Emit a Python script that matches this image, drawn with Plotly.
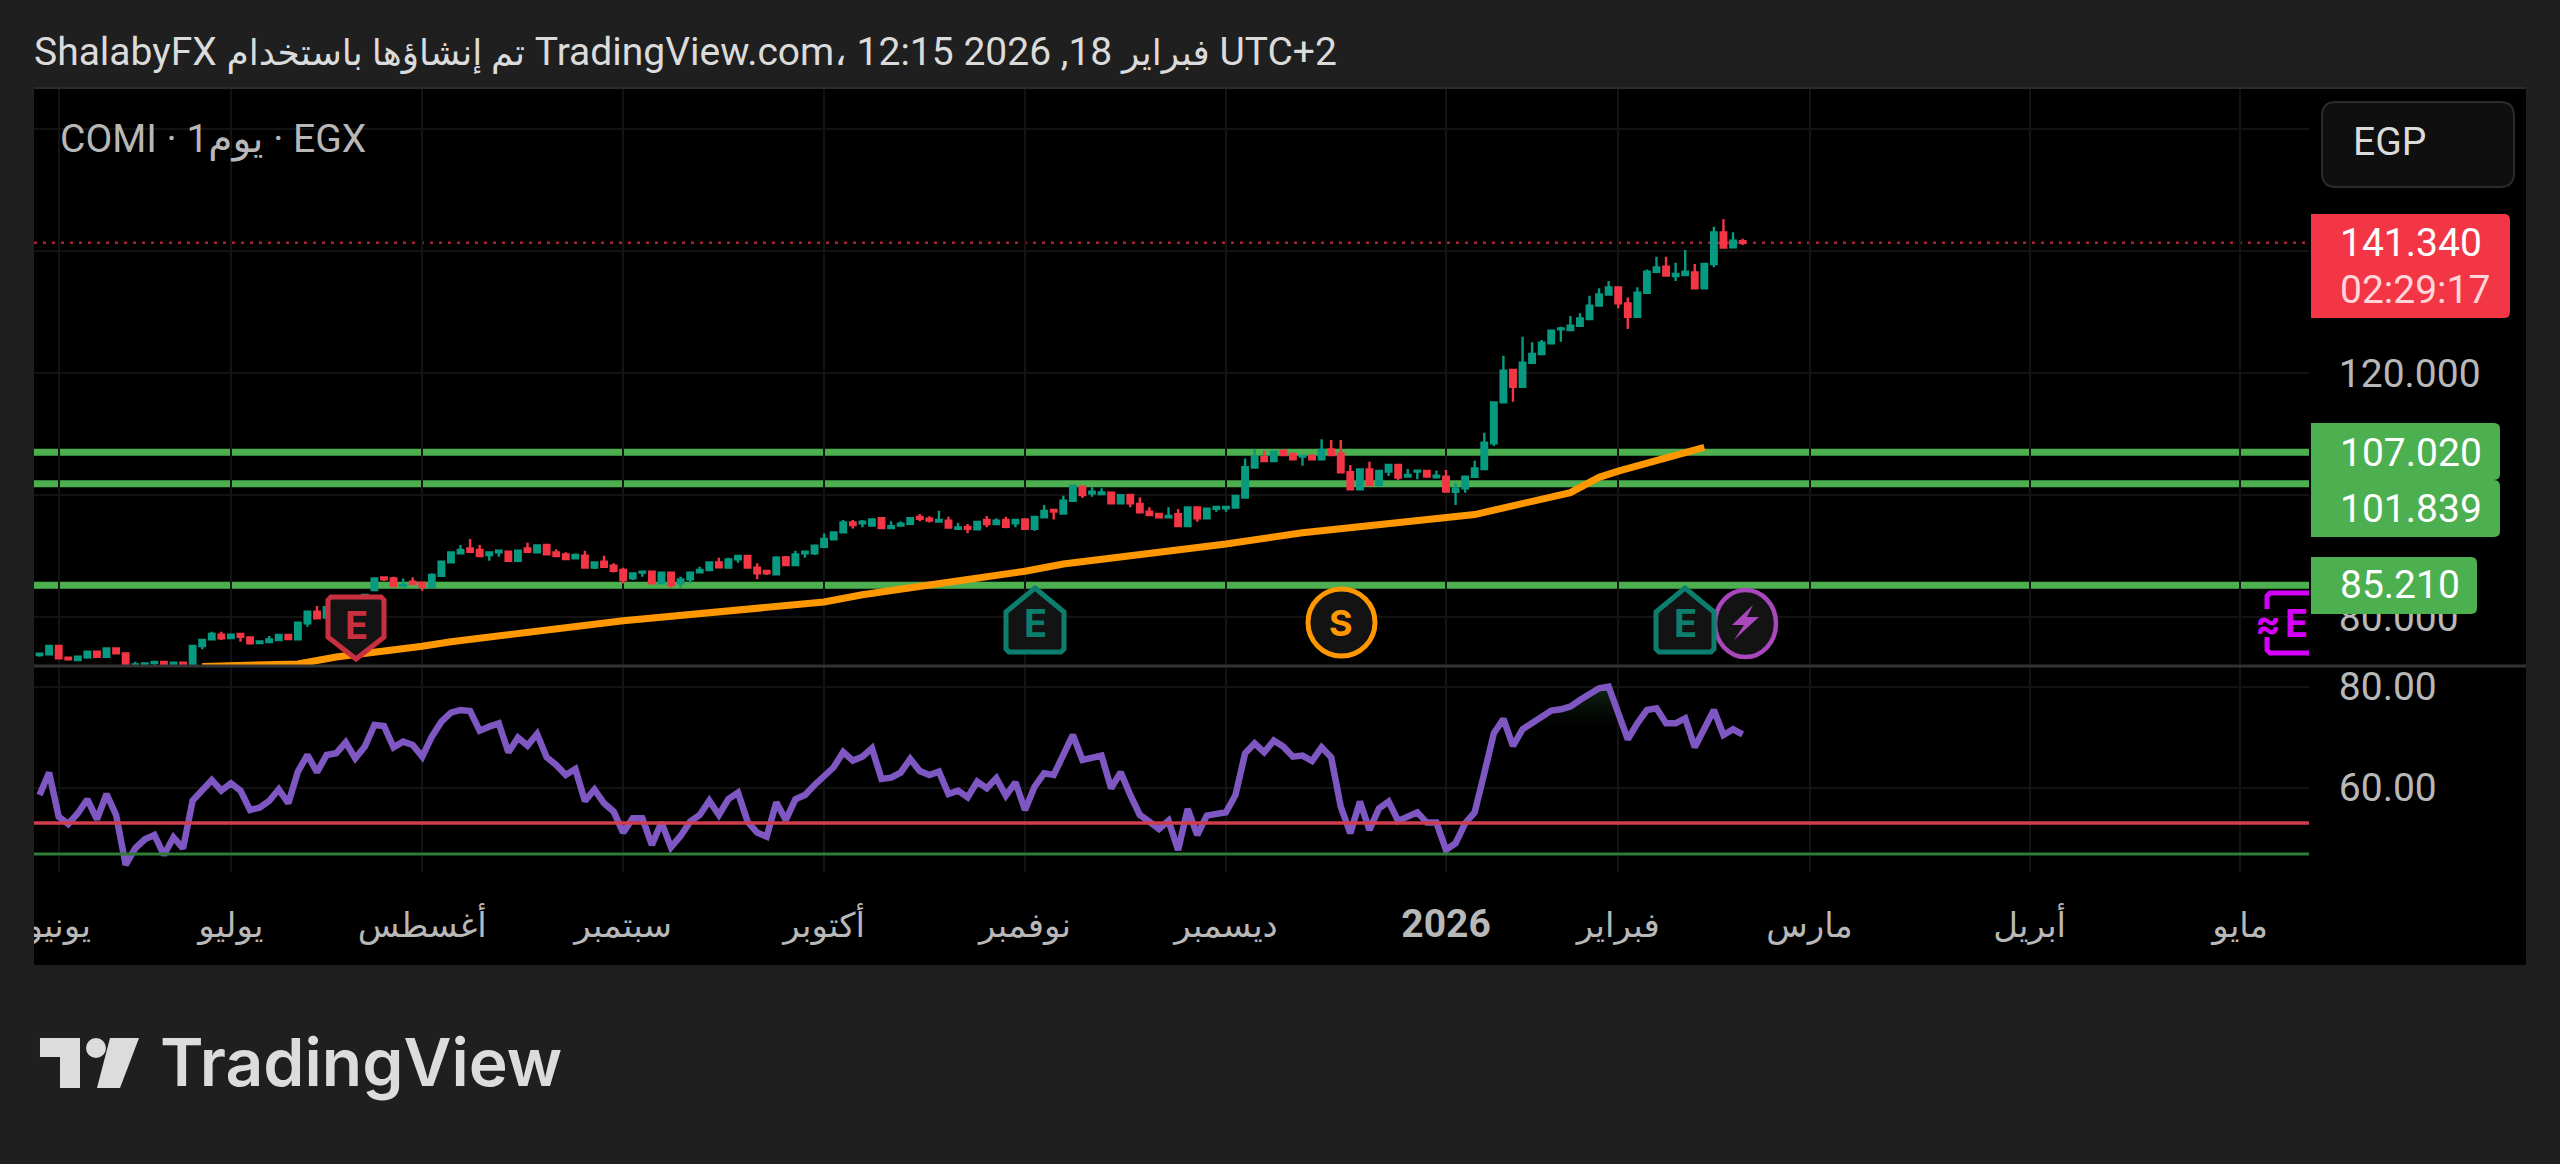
import plotly.graph_objects as go

W = 2560
H = 1164
FONT = "Roboto, 'DejaVu Sans', sans-serif"
GREEN = "#089981"
RED = "#F23645"
LEVEL_GREEN = "#4CAF50"
ORANGE = "#FF9800"
PURPLE = "#7E57C2"
MAGENTA = "#D500F9"
GRID = "#131313"
BG = "#1f1f1f"

# daily bars, 0 is the first bar of June (EGX trades Sun-Thu)
first_bar = -2
open_ = [
    73.77, 73.88, 75.24, 73.33, 72.95, 73.38, 74.31, 73.49, 74.86, 74.04,
    72.13, 72.13, 72.46, 72.62, 72.13, 72.51, 72.13, 75.24, 76.34, 77.10,
    76.55, 77.21, 76.66, 75.73, 75.90, 76.23, 77.05, 76.34, 78.96, 80.87,
    79.9, 81.6, 82.6, 82.0, 83.0, 84.42, 86.5, 86.33, 85.08, 85.8,
    85.63, 84.97, 86.77, 88.96, 90.44, 91.26, 90.98, 90.16, 90.6, 90.71,
    89.23, 91.26, 90.6, 91.8, 90.6, 90.27, 89.62, 90.05, 88.09, 89.07,
    88.41, 87.7, 86.34, 87.27, 87.43, 85.52, 87.27, 85.52, 86.17, 87.33,
    87.7, 88.96, 88.09, 89.45, 90.0, 88.09, 87.54, 87.0, 89.78, 88.52,
    90.44, 90.44, 91.53, 92.73, 93.88, 95.52, 95.35, 95.0, 96.2, 94.6,
    95.0, 95.3, 96.4, 96.1, 95.63, 95.8, 94.48, 94.76, 94.38, 95.9,
    95.25, 95.9, 95.36, 96.0, 94.48, 96.34, 97.55, 96.98, 99.07, 101.37,
    100.28, 100.17, 100.39, 98.64, 100.0, 98.53, 97.27, 96.9, 96.34, 96.84,
    94.92, 97.98, 96.18, 97.76, 97.82, 97.93, 99.57, 104.49, 106.18, 105.58,
    107.27, 106.73, 106.29, 106.4, 105.85, 107.49, 106.83, 103.72, 100.93, 104.21,
    101.64, 103.83, 104.92, 103.01, 103.83, 103.94, 102.9, 103.01, 100.54, 101.09,
    103.0, 104.26, 108.47, 115.19, 120.49, 117.76, 121.69, 123.11, 124.86, 127.16,
    127.05, 127.76, 128.85, 131.04, 132.87, 134.04, 131.42, 129.23, 133.17, 136.61,
    137.43, 135.9, 136.06, 136.5, 133.88, 137.87, 143.06, 140.6, 141.6,
]
high = [
    74.0, 75.24, 75.24, 73.4, 73.66, 74.31, 74.31, 74.86, 74.86, 74.04,
    72.67, 72.5, 72.78, 72.62, 72.6, 72.6, 75.24, 76.23, 77.59, 77.59,
    77.10, 77.3, 76.7, 76.05, 76.88, 77.05, 77.1, 79.2, 80.87, 81.80,
    81.9, 82.8, 82.9, 83.2, 83.7, 86.4, 86.6, 86.6, 86.33, 86.5,
    85.63, 87.16, 89.07, 90.8, 91.8, 92.79, 91.8, 90.7, 90.87, 90.71,
    90.87, 92.18, 91.75, 91.8, 91.09, 90.6, 90.4, 90.87, 88.96, 90.05,
    88.8, 88.09, 87.16, 87.43, 87.43, 87.27, 87.27, 86.6, 87.27, 88.25,
    88.96, 89.73, 89.73, 90.0, 90.0, 88.8, 87.7, 89.95, 90.0, 90.87,
    90.71, 91.69, 93.71, 93.88, 95.9, 95.9, 95.9, 96.2, 96.2, 95.7,
    95.7, 96.2, 96.9, 96.5, 97.44, 96.45, 95.47, 95.25, 95.58, 96.56,
    96.2, 96.45, 95.9, 96.0, 96.4, 98.36, 97.55, 99.9, 101.48, 101.37,
    101.26, 101.1, 100.39, 99.95, 100.0, 99.6, 97.98, 96.9, 97.98, 97.7,
    97.98, 97.98, 97.76, 98.04, 98.04, 99.84, 106.0, 107.49, 107.27, 107.11,
    107.4, 106.9, 106.45, 106.7, 109.13, 109.02, 109.02, 104.92, 104.21, 105.47,
    103.94, 104.92, 104.92, 104.27, 104.0, 103.94, 104.0, 104.1, 101.91, 103.0,
    105.63, 110.22, 115.19, 122.84, 120.49, 125.95, 125.03, 125.41, 127.0, 127.59,
    129.34, 129.78, 132.68, 133.88, 135.08, 134.04, 132.4, 134.04, 136.99, 139.07,
    139.07, 138.09, 140.16, 137.87, 137.87, 143.99, 145.19, 143.06, 142.0,
]
low = [
    73.49, 73.88, 73.22, 73.06, 72.95, 73.16, 73.49, 73.49, 74.04, 72.13,
    71.96, 72.0, 72.13, 72.13, 72.0, 72.13, 72.13, 74.70, 76.3, 76.23,
    76.5, 75.95, 75.68, 75.65, 75.8, 76.2, 76.39, 76.3, 78.41, 79.78,
    79.8, 81.4, 81.8, 81.9, 82.8, 84.42, 85.9, 85.08, 85.0, 85.4,
    84.3, 84.97, 86.77, 88.96, 90.44, 90.6, 90.0, 89.23, 89.9, 89.23,
    89.23, 90.71, 90.6, 90.27, 90.0, 89.5, 89.62, 88.09, 87.87, 88.25,
    87.3, 85.5, 86.06, 86.6, 85.52, 85.52, 84.8, 84.8, 85.52, 87.33,
    87.7, 88.14, 88.09, 88.9, 88.09, 86.2, 86.9, 87.0, 88.52, 88.52,
    89.73, 90.16, 91.26, 92.73, 93.88, 94.53, 94.7, 94.9, 94.6, 94.5,
    95.0, 95.3, 95.7, 95.5, 95.63, 94.65, 94.48, 93.72, 94.38, 94.7,
    95.25, 94.55, 94.7, 94.48, 94.16, 96.34, 96.0, 96.98, 99.07, 99.5,
    99.73, 100.17, 98.64, 98.64, 97.98, 97.16, 96.73, 96.34, 96.34, 94.92,
    94.92, 95.63, 96.18, 97.27, 97.27, 97.93, 99.4, 104.49, 105.58, 105.58,
    106.56, 105.85, 104.8, 105.85, 105.85, 106.56, 103.72, 100.93, 100.93, 101.64,
    101.64, 103.12, 102.46, 103.01, 102.57, 103.01, 102.9, 100.55, 98.36, 100.38,
    103.0, 104.26, 108.03, 115.19, 115.3, 117.76, 121.69, 123.11, 124.86, 125.14,
    127.05, 127.76, 128.85, 131.04, 132.87, 130.6, 127.21, 129.23, 133.17, 136.61,
    135.96, 135.08, 136.06, 133.88, 133.88, 137.32, 140.55, 140.6, 140.98,
]
close = [
    73.98, 75.24, 73.22, 73.06, 73.49, 74.31, 73.49, 74.86, 74.04, 72.13,
    72.24, 72.40, 72.62, 72.13, 72.51, 72.13, 75.24, 76.23, 77.21, 76.50,
    77.10, 76.77, 75.68, 76.01, 76.34, 77.05, 76.39, 79.07, 80.87, 79.78,
    81.6, 82.6, 82.0, 83.0, 83.6, 86.33, 86.2, 85.08, 85.24, 85.4,
    84.97, 86.88, 89.07, 90.60, 90.98, 90.7, 90.0, 90.6, 90.87, 89.23,
    90.87, 90.71, 91.75, 90.27, 90.0, 89.5, 90.16, 88.09, 88.96, 88.25,
    87.59, 86.06, 87.16, 87.43, 85.52, 87.27, 85.24, 86.17, 87.27, 87.7,
    88.96, 88.14, 89.45, 90.0, 88.09, 87.16, 87.16, 89.73, 88.52, 90.27,
    90.71, 91.69, 92.79, 93.88, 95.52, 95.08, 95.63, 96.0, 94.6, 94.9,
    95.3, 96.2, 96.1, 95.8, 95.9, 94.65, 94.7, 94.48, 95.58, 95.25,
    95.8, 94.81, 95.9, 94.48, 96.4, 97.38, 97.27, 99.07, 101.48, 100.0,
    100.55, 100.44, 98.64, 99.95, 98.64, 97.16, 96.73, 96.34, 96.56, 94.92,
    97.98, 96.18, 97.76, 98.04, 98.04, 99.84, 104.54, 106.29, 105.58, 107.11,
    106.56, 105.85, 106.45, 105.85, 107.38, 106.56, 103.72, 100.93, 104.21, 101.64,
    103.94, 104.92, 102.85, 103.28, 104.0, 103.01, 103.17, 100.55, 101.09, 103.0,
    104.37, 108.58, 115.19, 120.38, 117.76, 121.69, 123.11, 124.97, 126.94, 127.32,
    127.76, 128.96, 131.04, 132.87, 134.04, 131.42, 129.23, 133.17, 136.61, 137.32,
    135.96, 136.23, 136.61, 133.88, 137.87, 143.06, 140.55, 141.69, 141.34,
]
rsi = [
    58.56, 62.98, 54.27, 52.81, 54.93, 57.70, 53.74, 58.75, 54.60, 44.70,
    48.0, 49.78, 50.64, 46.68, 50.17, 48.0, 57.43, 59.55, 61.53, 59.42,
    60.87, 59.42, 55.59, 56.05, 57.37, 59.68, 56.91, 63.18, 66.48, 63.05,
    66.48, 66.81, 68.99, 65.82, 68.13, 72.42, 72.22, 68.0, 69.12, 68.46,
    66.15, 70.11, 73.08, 74.86, 75.39, 75.19, 71.30, 72.09, 72.75, 67.01,
    69.91, 68.33, 70.64, 66.02, 64.50, 62.52, 63.71, 57.37, 59.61, 56.91,
    55.26, 51.10, 53.94, 53.94, 48.66, 53.14, 48.19, 50.44, 53.28, 54.60,
    57.43, 54.60, 57.76, 59.02, 53.28, 51.10, 50.31, 57.10, 53.61, 57.70,
    58.56, 60.54, 62.19, 64.04, 67.07, 65.36, 66.15, 67.80, 61.73, 61.99,
    62.98, 65.69, 63.31, 62.52, 63.18, 58.75, 59.42, 58.09, 61.20, 59.88,
    61.86, 58.42, 61.07, 55.59, 60.21, 62.85, 62.52, 66.81, 70.44, 65.49,
    65.82, 66.35, 59.88, 63.05, 58.56, 54.60, 53.28, 51.82, 53.47, 47.67,
    55.78, 50.64, 54.46, 54.93, 55.12, 58.56, 66.81, 68.79, 67.01, 69.32,
    68.13, 66.15, 66.35, 65.29, 68.0, 66.02, 56.25, 50.97, 57.24, 51.63,
    55.92, 57.24, 53.41, 54.27, 55.12, 53.08, 53.08, 47.67, 48.99, 52.95,
    55.12, 62.85, 70.77, 73.61, 68.26, 71.56, 72.75, 74.07, 75.26, 75.52,
    76.05, 77.37, 78.69, 79.68, 80.01, 74.73, 69.58, 72.75, 75.39, 75.72,
    72.75, 72.75, 73.74, 68.0, 71.76, 75.39, 70.44, 71.56, 70.57,
]

# moving average, sampled where it bends
ema_bars = [15, 25, 29, 34, 38, 41, 46, 59, 80, 84, 91, 101, 105, 122, 130, 145, 148, 158, 161, 163, 172]
ema_vals = [71.9, 72.3, 73.44, 74.3, 75.2, 75.95, 76.9, 79.38, 82.46, 83.66, 85.25, 87.5, 88.7,
            91.97, 93.8, 96.2, 96.8, 100.4, 102.9, 103.9, 107.8]

levels = [107.02, 101.839, 85.21]
last_price = 141.34
rsi_upper = 53.0
rsi_lower = 46.87

month_bars = [0, 18, 38, 59, 80, 101, 122, 145, 163, 183, 206, 228]
month_labels = ["يونيو", "يوليو", "أغسطس", "سبتمبر", "أكتوبر", "نوفمبر", "ديسمبر",
                "<span style='font-size:39px'><b>2026</b></span>",
                "فبراير", "مارس", "أبريل", "مايو"]
price_ticks = [80, 100, 120, 140, 160]
# 100, 140 and 160 sit behind the tags and the currency box
price_labels = ["80.000", "", "120.000", "", ""]
rsi_ticks = [60, 80]
rsi_labels = ["60.00", "80.00"]


def X(px):
    return px / W


def Y(py):
    return 1 - py / H


def poly(points, close_path=True):
    d = "M " + " L ".join(f"{X(a):.5f} {Y(b):.5f}" for a, b in points)
    return d + (" Z" if close_path else "")


def rounded(x0, y0, x1, y1, r, left=True):
    # rect with rounded corners, left=False keeps the left side square
    rl = r if left else 0
    return (f"M {X(x0 + rl):.5f} {Y(y0):.5f} L {X(x1 - r):.5f} {Y(y0):.5f} "
            f"Q {X(x1):.5f} {Y(y0):.5f} {X(x1):.5f} {Y(y0 + r):.5f} "
            f"L {X(x1):.5f} {Y(y1 - r):.5f} Q {X(x1):.5f} {Y(y1):.5f} {X(x1 - r):.5f} {Y(y1):.5f} "
            f"L {X(x0 + rl):.5f} {Y(y1):.5f} Q {X(x0):.5f} {Y(y1):.5f} {X(x0):.5f} {Y(y1 - rl):.5f} "
            f"L {X(x0):.5f} {Y(y0 + rl):.5f} Q {X(x0):.5f} {Y(y0):.5f} {X(x0 + rl):.5f} {Y(y0):.5f} Z")


def path_shape(d, fill, line=None, width=0):
    return dict(type="path", path=d, xref="paper", yref="paper", fillcolor=fill,
                line=dict(color=line or fill, width=width), layer="above")


def rect(x0, y0, x1, y1, fill, layer="above", line=None):
    return dict(type="rect", xref="paper", yref="paper", x0=X(x0), x1=X(x1), y0=Y(y0), y1=Y(y1),
                fillcolor=fill, line=dict(color=line or fill, width=0 if line is None else 2), layer=layer)


def label(x, y, text, size=39, color="#ffffff", anchor="left", family=FONT, weight=None):
    return dict(xref="paper", yref="paper", x=X(x), y=Y(y), xanchor=anchor, yanchor="middle",
                text=text, showarrow=False, borderpad=0, borderwidth=0,
                font=dict(family=family, size=size, color=color, weight=weight))


bars = list(range(first_bar, first_bar + len(close)))

fig = go.Figure()
fig.add_trace(go.Candlestick(
    x=bars, open=open_, high=high, low=low, close=close,
    increasing=dict(line=dict(color=GREEN, width=2.4), fillcolor=GREEN),
    decreasing=dict(line=dict(color=RED, width=2.4), fillcolor=RED),
    whiskerwidth=0, xaxis="x", yaxis="y", showlegend=False,
))
fig.add_trace(go.Scatter(
    x=ema_bars, y=ema_vals, mode="lines", xaxis="x", yaxis="y",
    line=dict(color=ORANGE, width=7), showlegend=False,
))

# faint glow under the top of the RSI
glow_from = 153 - first_bar
glow_to = 165 - first_bar
fig.add_trace(go.Scatter(
    x=bars[glow_from:glow_to], y=[71.5] * (glow_to - glow_from), mode="lines",
    line=dict(width=0), xaxis="x", yaxis="y2", showlegend=False,
))
fig.add_trace(go.Scatter(
    x=bars[glow_from:glow_to], y=rsi[glow_from:glow_to], mode="lines", fill="tonexty",
    fillgradient=dict(type="vertical", colorscale=[[0, "rgba(0,0,0,0)"], [1, "rgba(40,90,50,0.45)"]]),
    line=dict(width=0), xaxis="x", yaxis="y2", showlegend=False,
))
fig.add_trace(go.Scatter(
    x=bars, y=rsi, mode="lines", xaxis="x", yaxis="y2",
    line=dict(color=PURPLE, width=6.5), showlegend=False,
))

shapes = [
    rect(34, 89, 2526, 965, "#000000", layer="below"),
    dict(type="line", xref="paper", yref="paper", x0=X(34), x1=X(2526), y0=Y(88), y1=Y(88),
         line=dict(color="#2c2c2c", width=2), layer="below"),
]
for lv in levels:
    shapes.append(dict(type="line", xref="x domain", yref="y", x0=0, x1=1, y0=lv, y1=lv,
                       line=dict(color=LEVEL_GREEN, width=7), layer="below"))
shapes.append(dict(type="line", xref="x domain", yref="y", x0=0, x1=1, y0=last_price, y1=last_price,
                   line=dict(color=RED, width=2.5, dash="3px,6px"), layer="below", opacity=0.7))
shapes.append(dict(type="line", xref="x domain", yref="y2", x0=0, x1=1, y0=rsi_upper, y1=rsi_upper,
                   line=dict(color="#D03E4C", width=3.5), layer="above"))
shapes.append(dict(type="line", xref="x domain", yref="y2", x0=0, x1=1, y0=rsi_lower, y1=rsi_lower,
                   line=dict(color="#2F7D36", width=3), layer="above"))

# pane separator and the cut of the first month label
shapes.append(dict(type="line", xref="paper", yref="paper", x0=X(34), x1=X(2526), y0=Y(666), y1=Y(666),
                   line=dict(color="#333333", width=3), layer="above"))
shapes.append(rect(0, 880, 34, 965, BG))

# earnings / split / dividend badges
BADGE = "#131313"
shapes.append(path_shape(poly([(331, 597), (381, 597), (384, 600), (384, 637), (356, 659),
                               (328, 637), (328, 600)]), BADGE, "#C9303F", 5))
shapes.append(dict(type="circle", xref="paper", yref="paper", x0=X(1715), x1=X(1776), y0=Y(590), y1=Y(657),
                   fillcolor=BADGE, line=dict(color="#AB47BC", width=4.5), layer="above"))
for cx in (1035, 1685):
    shapes.append(path_shape(poly([(cx, 588), (cx + 29, 612), (cx + 29, 649), (cx + 26, 652),
                                   (cx - 26, 652), (cx - 29, 649), (cx - 29, 612)]), BADGE, "#0B7E6D", 5))
shapes.append(dict(type="circle", xref="paper", yref="paper", x0=X(1308), x1=X(1375), y0=Y(589), y1=Y(656),
                   fillcolor=BADGE, line=dict(color=ORANGE, width=5), layer="above"))
shapes.append(path_shape(poly([(1753, 605), (1732, 625), (1744, 625), (1734, 640),
                               (1759, 617), (1747, 617)]), "#AB47BC"))
shapes.append(path_shape(poly([(2309, 593), (2270, 593), (2267, 596), (2267, 609)], False), "rgba(0,0,0,0)", MAGENTA, 5))
shapes.append(path_shape(poly([(2267, 637), (2267, 650), (2270, 653), (2309, 653)], False), "rgba(0,0,0,0)", MAGENTA, 5))

# currency box and price tags
shapes.append(path_shape(rounded(2322, 102, 2514, 187, 14), "#0f0f0f", "#2b2b2b", 2))
shapes.append(path_shape(rounded(2311, 214, 2510, 318, 6, left=False), RED))
shapes.append(path_shape(rounded(2311, 423, 2500, 480, 6, left=False), LEVEL_GREEN))
shapes.append(path_shape(rounded(2311, 480, 2500, 537, 6, left=False), LEVEL_GREEN))
shapes.append(path_shape(rounded(2311, 557, 2477, 614, 6, left=False), LEVEL_GREEN))

# logo mark
LOGO = "#dcdcdc"
shapes.append(path_shape(poly([(40, 1038), (80, 1038), (80, 1088), (60, 1088), (60, 1057), (40, 1057)]), LOGO))
shapes.append(dict(type="circle", xref="paper", yref="paper", x0=X(86), x1=X(106), y0=Y(1038), y1=Y(1058),
                   fillcolor=LOGO, line=dict(width=0), layer="above"))
shapes.append(path_shape(poly([(110, 1038), (139, 1038), (120, 1088), (97, 1088)]), LOGO))

title_text = ("ShalabyFX <span style='font-size:36px'>تم إنشاؤها باستخدام</span> TradingView.com، "
              "<span style='font-size:36px'>فبراير</span> 18, 2026 12:15 UTC+2")

annotations = [
    label(34, 52, title_text, size=39, color="#dbdbdb"),
    label(60, 139, "COMI · 1يوم · EGX", color="#b8b8b8"),
    label(2353, 142, "EGP", color="#dbdbdb"),
    label(2340, 243, "141.340"),
    label(2340, 290, "02:29:17", color="#ffd5d9"),
    label(2340, 453, "107.020"),
    label(2340, 509, "101.839"),
    label(2340, 585, "85.210"),
    label(356, 625, "E", size=38, color="#C9303F", anchor="center", family="Inter", weight=700),
    label(1035, 623, "E", size=38, color="#0B7E6D", anchor="center", family="Inter", weight=700),
    label(1685, 623, "E", size=38, color="#0B7E6D", anchor="center", family="Inter", weight=700),
    label(1341, 623, "S", size=36, color=ORANGE, anchor="center", family="Inter", weight=700),
    label(2268, 623, "≈", size=38, color=MAGENTA, anchor="center", family="Inter", weight=700),
    label(2296, 623, "E", size=38, color=MAGENTA, anchor="center", family="Inter", weight=700),
    label(160, 1062, "TradingView", size=66, color=LOGO, family="Inter", weight=600),
]

axis_font = dict(size=39, color="#b8b8b8", family=FONT)
fig.update_layout(
    width=W,
    height=H,
    autosize=False,
    margin=dict(l=0, r=0, t=0, b=0),
    paper_bgcolor=BG,
    plot_bgcolor="#000000",
    boxgap=0.18,
    showlegend=False,
    hovermode=False,
    shapes=shapes,
    annotations=annotations,
    font=dict(family=FONT, color="#b8b8b8", size=38),
    xaxis=dict(
        domain=[X(34), X(2309)], anchor="y2", range=[-2.58, 235.2], rangeslider=dict(visible=False),
        tickmode="array", tickvals=month_bars, ticktext=month_labels, automargin=False,
        tickfont=dict(size=34, color="#b8b8b8", family=FONT), ticks="outside", ticklen=23,
        tickcolor="rgba(0,0,0,0)", showgrid=True, gridcolor=GRID, gridwidth=2, zeroline=False, showline=False,
    ),
    yaxis=dict(
        domain=[Y(666), Y(89)], anchor="x", side="right", range=[71.97, 166.56],
        tickmode="array", tickvals=price_ticks, ticktext=price_labels, automargin=False,
        tickfont=axis_font, ticks="outside", ticklen=21,
        tickcolor="rgba(0,0,0,0)", showgrid=True, gridcolor=GRID, gridwidth=2, zeroline=False, showline=False,
    ),
    yaxis2=dict(
        domain=[Y(872), Y(666)], anchor="x", side="right", range=[43.3, 84.1],
        tickmode="array", tickvals=rsi_ticks, ticktext=rsi_labels, automargin=False,
        tickfont=axis_font, ticks="outside", ticklen=21,
        tickcolor="rgba(0,0,0,0)", showgrid=True, gridcolor=GRID, gridwidth=2, zeroline=False, showline=False,
    ),
)

fig.write_html("out.html", config=dict(displayModeBar=False),
               post_script="document.body.style.margin='0';document.body.style.background='#1f1f1f';")
